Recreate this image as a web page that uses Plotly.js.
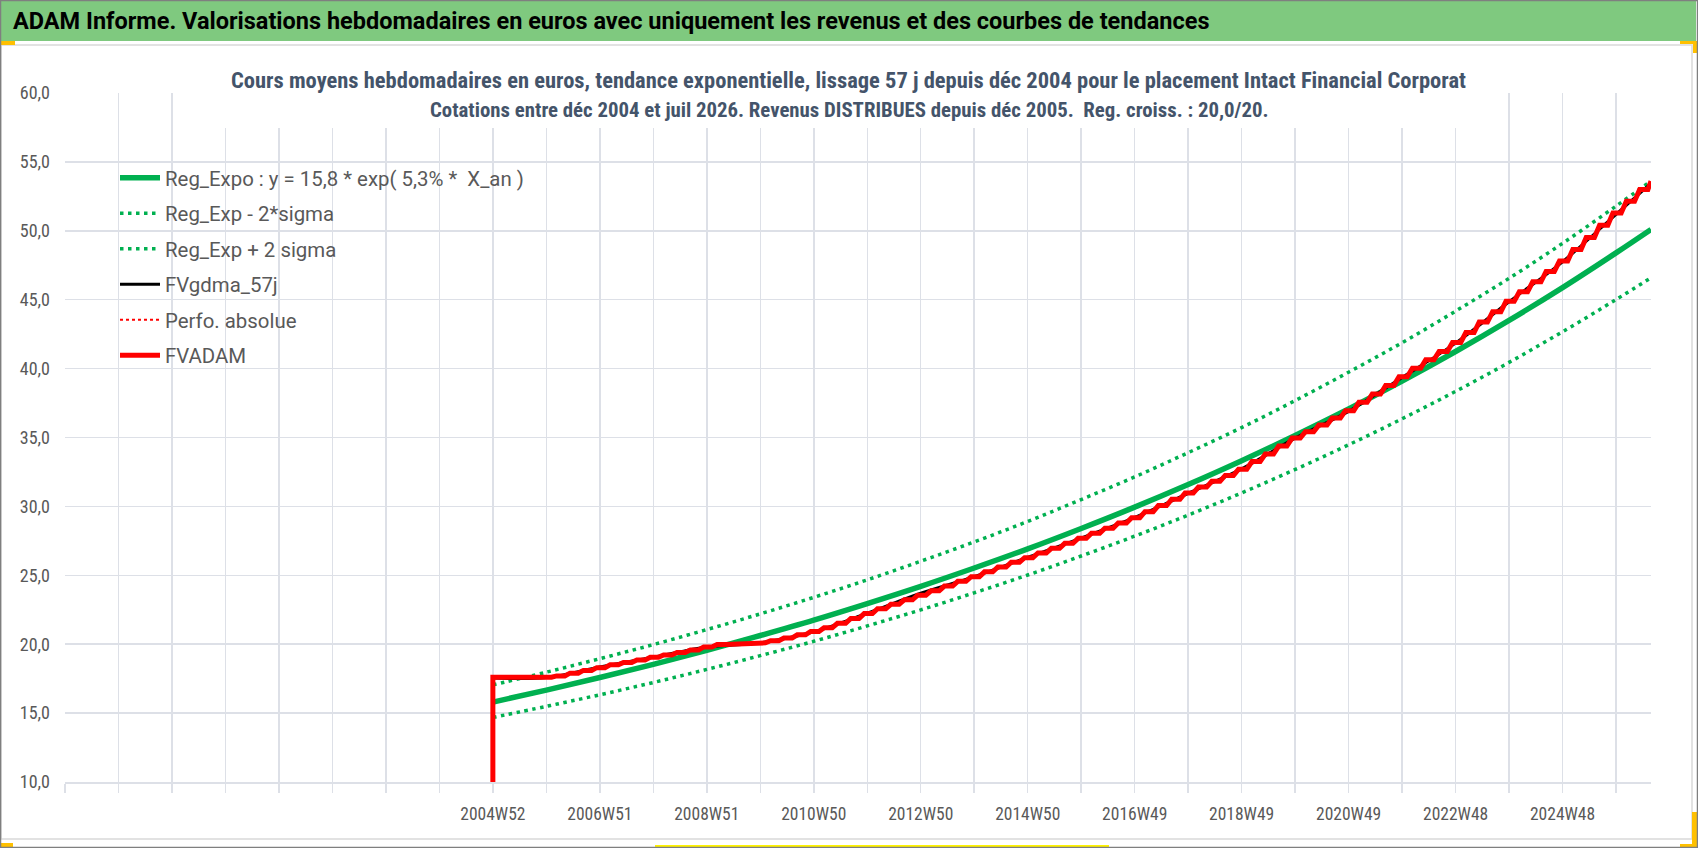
<!DOCTYPE html>
<html>
<head>
<meta charset="utf-8">
<script src="https://cdn.plot.ly/plotly-3.0.1.min.js"></script>
<style>
html,body{margin:0;padding:0;background:#fff;}
#chart{width:1698px;height:848px;}
</style>
</head>
<body>
<div id="chart"></div>
<script>
// ---------------- DATA ----------------
// Category axis: one category per week; the first categories (before 2004W52) are empty.
const weeksPerYear = 52;
const startWeekIdx = 416;        // category index of 2004W52
const endWeekIdx = 1542;         // last category (juil 2026)
const xTickLabels = ["", "", "", "", "", "", "", "", "2004W52", "", "2006W51", "", "2008W51", "", "2010W50", "", "2012W50", "", "2014W50", "", "2016W49", "", "2018W49", "", "2020W49", "", "2022W48", "", "2024W48", ""];

// Yearly readings (one per 52 weeks from 2004W52, last one = end of series)
const regExpo = [15.80, 16.67, 17.58, 18.54, 19.55, 20.63, 21.75, 22.95, 24.20, 25.53, 26.92, 28.40, 29.95, 31.59, 33.32, 35.15, 37.07, 39.10, 41.24, 43.50, 45.88, 48.40, 50.10];
const regUpper = [17.05, 17.97, 18.95, 19.97, 21.06, 22.20, 23.40, 24.67, 26.02, 27.42, 28.91, 30.50, 32.14, 33.90, 35.72, 37.68, 39.74, 41.88, 44.17, 46.55, 49.09, 51.79, 53.61];
const regLower = [14.68, 15.49, 16.33, 17.22, 18.17, 19.17, 20.21, 21.33, 22.49, 23.73, 25.02, 26.40, 27.84, 29.37, 30.98, 32.68, 34.47, 36.36, 38.35, 40.45, 42.67, 45.01, 46.59];
const fvGdma57 = [17.55, 17.58, 18.35, 19.05, 19.80, 20.10, 20.90, 22.25, 23.70, 24.90, 26.30, 27.70, 29.20, 30.95, 32.72, 34.95, 36.90, 39.35, 41.85, 44.85, 47.75, 51.20, 53.45];

// FVADAM: flat start value, then quarterly (13-week) steps once revenues are distributed
const fvAdamStart = 17.60;
const fvAdamFirstStepIdx = 478;
const weeksPerQuarter = 13;
const fvAdamQuarterly = [17.70, 17.90, 18.10, 18.30, 18.50, 18.68, 18.86, 19.05, 19.22, 19.40, 19.58, 19.80,
  19.98, 20.00, 20.02, 20.10, 20.25, 20.45, 20.68, 20.92, 21.20, 21.52, 21.87, 22.22,
  22.58, 22.90, 23.22, 23.56, 23.88, 24.22, 24.56, 24.90, 25.25, 25.60, 25.95, 26.28,
  26.62, 26.96, 27.32, 27.68, 28.05, 28.42, 28.80, 29.18, 29.62, 30.06, 30.52, 30.98,
  31.40, 31.82, 32.25, 32.70, 33.25, 33.80, 34.38, 34.96, 35.42, 35.90, 36.42, 36.95,
  37.55, 38.15, 38.78, 39.40, 40.02, 40.65, 41.25, 41.90, 42.62, 43.38, 44.12, 44.88,
  45.58, 46.30, 47.05, 47.80, 48.65, 49.52, 50.40, 51.30, 52.15, 53.00];
const fvAdamEnd = 53.60;

// ---------------- BUILD ----------------
const yearlyX = regExpo.map((_, k) => k === regExpo.length - 1 ? endWeekIdx : startWeekIdx + k * weeksPerYear);
const tickVals = xTickLabels.map((_, i) => i * weeksPerYear);

// each quarter: a flat tread (8 weeks) followed by a sloped rise to the next quarter's value
const treadWeeks = 8;
const redX = [startWeekIdx, startWeekIdx, fvAdamFirstStepIdx - (weeksPerQuarter - treadWeeks)];
const redY = [0, fvAdamStart, fvAdamStart];
fvAdamQuarterly.forEach((v, i) => {
  const x0 = fvAdamFirstStepIdx + i * weeksPerQuarter;
  redX.push(x0, x0 + treadWeeks); redY.push(v, v);
});
redX.push(endWeekIdx); redY.push(fvAdamEnd);

const GREEN = '#00B050', RED = '#FF0000';
const FONT = 'Roboto, "Liberation Sans", sans-serif';
const FONT_C = '"Roboto Condensed", Roboto, sans-serif';

const traces = [
  {x: yearlyX, y: regExpo, name: 'Reg_Expo : y = 15,8 * exp( 5,3% *  X_an )', mode: 'lines', line: {color: GREEN, width: 5.5, shape: 'spline'}, legendgroup: 'a'},
  {x: yearlyX, y: regLower, name: 'Reg_Exp - 2*sigma', mode: 'lines', line: {color: GREEN, width: 3.5, dash: '3.5px,4.5px', shape: 'spline'}, legendgroup: 'b'},
  {x: yearlyX, y: regUpper, name: 'Reg_Exp + 2 sigma', mode: 'lines', line: {color: GREEN, width: 3.5, dash: '3.5px,4.5px', shape: 'spline'}, legendgroup: 'c'},
  {x: yearlyX, y: fvGdma57, name: 'FVgdma_57j', mode: 'lines', line: {color: '#000000', width: 3, shape: 'spline'}, legendgroup: 'd'},
  {x: [null], y: [null], name: 'Perfo. absolue', mode: 'lines', line: {color: RED, width: 2, dash: 'dot'}, legendgroup: 'e'},
  {x: redX, y: redY, name: 'FVADAM', mode: 'lines', line: {color: RED, width: 5}, legendgroup: 'f'}
];

const L = 65, R = 47, T = 93, B = 66, W = 1698, H = 848;
const pw = W - L - R, ph = H - T - B;
const px = x => (x - L) / pw;
const py = y => (H - B - y) / ph;

const shapes = [
  // header band
  {type: 'rect', xref: 'paper', yref: 'paper', x0: px(0), x1: px(1696), y0: py(41), y1: py(0), fillcolor: '#7FC97F', line: {width: 0}, layer: 'above'},
  // chart area border
  {type: 'rect', xref: 'paper', yref: 'paper', x0: px(1), x1: px(1692), y0: py(839), y1: py(45), fillcolor: 'rgba(0,0,0,0)', line: {width: 1.5, color: '#D9D9D9'}, layer: 'below'},
  // white box behind the chart title
  {type: 'rect', xref: 'paper', yref: 'paper', x0: px(220), x1: px(1476), y0: py(128), y1: py(60), fillcolor: '#FFFFFF', line: {width: 0}, layer: 'above'},
  // selection handles
  {type: 'rect', xref: 'paper', yref: 'paper', x0: px(0), x1: px(15), y0: py(45), y1: py(41), fillcolor: '#FFC000', line: {width: 0}, layer: 'above'},
  {type: 'rect', xref: 'paper', yref: 'paper', x0: px(1680), x1: px(1697), y0: py(44), y1: py(41), fillcolor: '#FFC000', line: {width: 0}, layer: 'above'},
  {type: 'rect', xref: 'paper', yref: 'paper', x0: px(1693), x1: px(1697), y0: py(53), y1: py(41), fillcolor: '#FFC000', line: {width: 0}, layer: 'above'},
  {type: 'rect', xref: 'paper', yref: 'paper', x0: px(0), x1: px(13), y0: py(848), y1: py(843), fillcolor: '#FFC000', line: {width: 0}, layer: 'above'},
  {type: 'rect', xref: 'paper', yref: 'paper', x0: px(1692), x1: px(1697), y0: py(848), y1: py(812), fillcolor: '#FFC000', line: {width: 0}, layer: 'above'},
  {type: 'rect', xref: 'paper', yref: 'paper', x0: px(1680), x1: px(1697), y0: py(848), y1: py(844), fillcolor: '#FFC000', line: {width: 0}, layer: 'above'},
  {type: 'rect', xref: 'paper', yref: 'paper', x0: px(655), x1: px(1109), y0: py(848), y1: py(845), fillcolor: '#FFF200', line: {width: 0}, layer: 'above'},
  // outer frame
  {type: 'rect', xref: 'paper', yref: 'paper', x0: px(0.5), x1: px(1697.5), y0: py(847.5), y1: py(0.5), fillcolor: 'rgba(0,0,0,0)', line: {width: 1.5, color: '#7F7F7F'}, layer: 'above'}
];

const annotations = [
  {xref: 'paper', yref: 'paper', x: px(11), y: py(21), xanchor: 'left', yanchor: 'middle', showarrow: false,
   text: 'ADAM Informe. Valorisations hebdomadaires en euros avec uniquement les revenus et des courbes de tendances',
   font: {family: FONT, size: 23.5, color: '#000000', weight: 'bold'}},
  {xref: 'paper', yref: 'paper', x: px(848), y: py(80), xanchor: 'center', yanchor: 'middle', showarrow: false,
   text: 'Cours moyens hebdomadaires en euros, tendance exponentielle, lissage 57 j depuis déc 2004 pour le placement Intact Financial Corporat',
   font: {family: FONT_C, size: 22.5, color: '#44546A', weight: 'bold'}},
  {xref: 'paper', yref: 'paper', x: px(849), y: py(110), xanchor: 'center', yanchor: 'middle', showarrow: false,
   text: 'Cotations entre déc 2004 et juil 2026. Revenus DISTRIBUES depuis déc 2005.  Reg. croiss. : 20,0/20.',
   font: {family: FONT_C, size: 20.8, color: '#44546A', weight: 'bold'}}
];

const layout = {
  width: W, height: H,
  margin: {l: L, r: R, t: T, b: B, pad: 0},
  paper_bgcolor: '#FFFFFF', plot_bgcolor: '#FFFFFF',
  separators: ', ',
  showlegend: true,
  legend: {x: px(115), y: py(158), xanchor: 'left', yanchor: 'top', bgcolor: 'rgba(0,0,0,0)',
    font: {family: FONT, size: 20.4, color: '#595959'}, tracegroupgap: 6, itemwidth: 40},
  xaxis: {range: [0, endWeekIdx], tickmode: 'array', tickvals: tickVals, ticktext: xTickLabels,
    showgrid: true, gridcolor: '#DDE0E7', gridwidth: 1.5, zeroline: false,
    showline: true, linecolor: '#DDE0E7', linewidth: 1.5,
    ticks: 'outside', ticklen: 9, tickwidth: 1.5, tickcolor: '#DDE0E7',
    tickangle: 0, ticklabelstandoff: 6,
    tickfont: {family: FONT_C, size: 17.5, color: '#595959'}, fixedrange: true},
  yaxis: {range: [10, 60], tick0: 10, dtick: 5, tickformat: '.1f',
    showgrid: true, gridcolor: '#DDE0E7', gridwidth: 1.5, zeroline: false, showline: false,
    ticks: '', ticklabelstandoff: 14,
    tickfont: {family: FONT_C, size: 18, color: '#595959'}, fixedrange: true},
  shapes: shapes,
  annotations: annotations
};

Plotly.newPlot('chart', traces, layout, {staticPlot: true, displayModeBar: false});
</script>
</body>
</html>
